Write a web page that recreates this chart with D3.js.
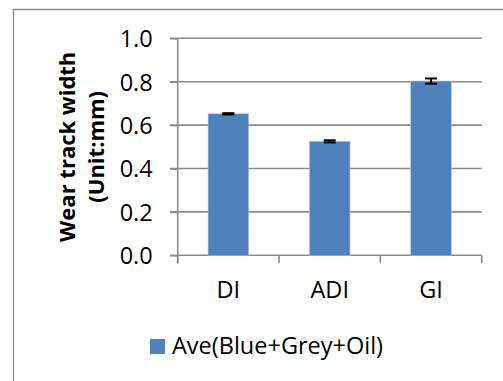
<!DOCTYPE html>
<html><head><meta charset="utf-8">
<script src="https://cdn.jsdelivr.net/npm/d3@7"></script>
<style>
body{margin:0;background:#fff;}
svg{display:block;}
text{font-family:"Open Sans","Liberation Sans",sans-serif;fill:#000;}
</style></head>
<body><svg id="c" width="503" height="381"></svg>
<script>
const categories = ["DI", "ADI", "GI"];
const values = [0.652, 0.525, 0.803];
const errors = [0.003, 0.005, 0.012];
const yTicks = [0.0, 0.2, 0.4, 0.6, 0.8, 1.0];
const seriesName = "Ave(Blue+Grey+Oil)";
const yTitle = ["Wear track width", "(Unit:mm)"];

(function(){
const svg = d3.select("#c");
const color = "#4F81BD";
const gridColor = "#8c8c8c";
const fs = 23.5;

// chart border
svg.append("path").attr("d","M13.5,381 V9.5 H503").attr("fill","none").attr("stroke","#8a8a8a").attr("stroke-width",1.3);

const pL = 177.7, pR = 481.7, pT = 38.3, pB = 255.3;
const x = d3.scaleBand().domain(categories).range([pL, pR]).paddingInner(0.6).paddingOuter(0.3);
const xb = d3.scaleBand().domain(categories).range([pL, pR]);
const y = d3.scaleLinear().domain([0, 1]).range([pB, pT]);

// gridlines
svg.append("g").selectAll("line").data(yTicks.filter(d=>d>0)).join("line")
  .attr("x1", 170).attr("x2", pR).attr("y1", d=>y(d)).attr("y2", d=>y(d))
  .attr("stroke", gridColor).attr("stroke-width", 1.6);

// y axis
const ya = svg.append("g").attr("transform", `translate(${pL},0)`)
  .call(d3.axisLeft(y).tickValues(yTicks).tickFormat(d3.format(".1f")).tickSize(7.7).tickPadding(17.3));
ya.select(".domain").remove();
ya.selectAll(".tick line").attr("stroke", gridColor).attr("stroke-width",1.6);
ya.selectAll(".tick text").attr("font-size", fs).attr("font-family", "'Open Sans',sans-serif").attr("dy","0.36em").attr("fill","#000");
svg.append("line").attr("x1",pL).attr("x2",pL).attr("y1",pT).attr("y2",263.3).attr("stroke",gridColor).attr("stroke-width",1.6);

// x axis
const xa = svg.append("g").attr("transform", `translate(0,${pB})`)
  .call(d3.axisBottom(xb).tickSize(0).tickPadding(26.5));
xa.select(".domain").attr("stroke", gridColor).attr("stroke-width",1.6).attr("d", `M170,0H${pR}`);
xa.selectAll(".tick text").attr("font-size", fs).attr("font-family", "'Open Sans',sans-serif").attr("fill","#000");
// category boundary ticks
svg.append("g").selectAll("line").data(categories.concat(["end"])).join("line")
  .attr("x1", (d,i)=> i<categories.length ? xb(d) : pR)
  .attr("x2", (d,i)=> i<categories.length ? xb(d) : pR)
  .attr("y1", pB).attr("y2", 263.3).attr("stroke", gridColor).attr("stroke-width",1.6);

// bars
svg.append("g").selectAll("rect").data(values).join("rect")
  .attr("x", (d,i)=>x(categories[i])).attr("width", x.bandwidth())
  .attr("y", d=>y(d)).attr("height", d=>pB - y(d))
  .attr("fill", color).attr("stroke","#a7bfdc").attr("stroke-width",0.6);

// error bars
const eb = svg.append("g").attr("stroke","#000").attr("stroke-width",2);
values.forEach((v,i)=>{
  const cx = x(categories[i]) + x.bandwidth()/2;
  eb.append("line").attr("x1",cx).attr("x2",cx).attr("y1",y(v+errors[i])).attr("y2",y(v-errors[i]));
  eb.append("line").attr("x1",cx-6).attr("x2",cx+6).attr("y1",y(v+errors[i])).attr("y2",y(v+errors[i]));
  eb.append("line").attr("x1",cx-6).attr("x2",cx+6).attr("y1",y(v-errors[i])).attr("y2",y(v-errors[i]));
});

// y title
const yt = svg.append("text").attr("transform", `translate(0,${(pT+pB)/2}) rotate(-90)`)
  .attr("text-anchor","middle").attr("font-weight","bold").attr("font-size",22);
yt.append("tspan").attr("x",0).attr("y",75).text(yTitle[0]);
yt.append("tspan").attr("x",0).attr("y",104).text(yTitle[1]);

// legend
svg.append("rect").attr("x",150).attr("y",339).attr("width",15).attr("height",15).attr("fill",color);
svg.append("text").attr("x",172).attr("y",354).attr("font-size",fs).text(seriesName);
})();
</script></body></html>
